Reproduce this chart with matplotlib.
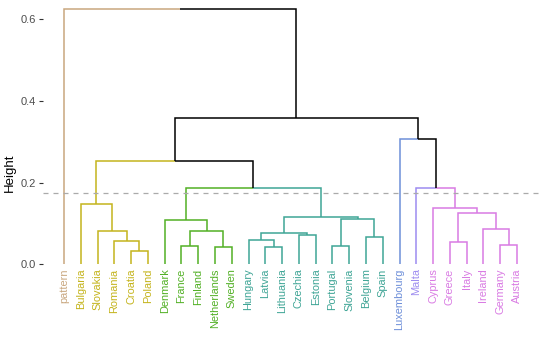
import numpy as np
import matplotlib
matplotlib.use("Agg")
import matplotlib.pyplot as plt

plt.rcParams['font.family'] = ['Liberation Sans', 'DejaVu Sans']

# leaves in display order
labels = ["pattern", "Bulgaria", "Slovakia", "Romania", "Croatia", "Poland",
          "Denmark", "France", "Finland", "Netherlands", "Sweden",
          "Hungary", "Latvia", "Lithuania", "Czechia", "Estonia", "Portugal",
          "Slovenia", "Belgium", "Spain", "Luxembourg", "Malta",
          "Cyprus", "Greece", "Italy", "Ireland", "Germany", "Austria"]
clusters = [0, 1, 1, 1, 1, 1, 2, 2, 2, 2, 2,
            3, 3, 3, 3, 3, 3, 3, 3, 3, 4, 5,
            6, 6, 6, 6, 6, 6]
cluster_colors = ["#C9A77F", "#C4B41C", "#52B025", "#3FA596",
                  "#6E8FD9", "#9D8CF0", "#D97BE3"]

# merges: (child a, child b, height); new nodes numbered from 28 up
merge_a = [4, 3, 2, 1, 7, 9, 32, 6, 12, 11, 14, 37, 16, 18, 40, 39, 35, 31,
           23, 26, 25, 46, 22, 21, 20, 45, 0]
merge_b = [5, 28, 29, 30, 8, 10, 33, 34, 13, 36, 15, 38, 17, 19, 41, 42, 43, 44,
           24, 27, 47, 48, 49, 50, 51, 52, 53]
heights = [0.033, 0.058, 0.082, 0.147, 0.045, 0.043, 0.081, 0.108, 0.043,
           0.060, 0.072, 0.076, 0.045, 0.068, 0.110, 0.116, 0.1875, 0.254,
           0.055, 0.047, 0.086, 0.125, 0.137, 0.186, 0.308, 0.359, 0.625]
cut_height = 0.174

n = len(labels)
xpos = {i: i + 1.0 for i in range(n)}
ypos = {i: 0.0 for i in range(n)}
ncl = {i: clusters[i] for i in range(n)}
for k, (a, b, h) in enumerate(zip(merge_a, merge_b, heights)):
    node = n + k
    xpos[node] = (xpos[a] + xpos[b]) / 2
    ypos[node] = h
    ncl[node] = ncl[a] if ncl[a] == ncl[b] else None

fig = plt.figure(figsize=(5.5, 3.48), dpi=100)
ax = fig.add_axes([43 / 550, 1 - 300 / 348, (540 - 43) / 550, (300 - 5) / 348])

for k, (a, b, h) in enumerate(zip(merge_a, merge_b, heights)):
    node = n + k
    for c in (a, b):
        col = cluster_colors[ncl[c]] if ncl[c] is not None else "black"
        ax.plot([xpos[node], xpos[c], xpos[c]], [h, h, ypos[c]],
                color=col, lw=1.1, solid_capstyle='butt', solid_joinstyle='miter')

ax.axhline(cut_height, color="#AAAAAA", lw=0.9, ls=(0, (4, 4)))

for i, lab in enumerate(labels):
    ax.text(xpos[i], -0.01, lab, rotation=90, ha='center', va='top',
            fontsize=7.9, color=cluster_colors[clusters[i]])

ax.set_xlim(-0.25, 29.37)
ax.set_ylim(-0.0874, 0.635)
ax.set_yticks([0.0, 0.2, 0.4, 0.6])
ax.set_yticklabels(["0.0", "0.2", "0.4", "0.6"])
ax.set_xticks([])
for s in ax.spines.values():
    s.set_visible(False)
ax.tick_params(axis='y', length=3, width=0.8, color="#333333",
               labelcolor="#4D4D4D", labelsize=8, pad=2)
ax.set_ylabel("Height", fontsize=9.5, labelpad=4)
ax.yaxis.set_label_coords(-0.055, 0.43)

fig.savefig("out.png", dpi=100)
